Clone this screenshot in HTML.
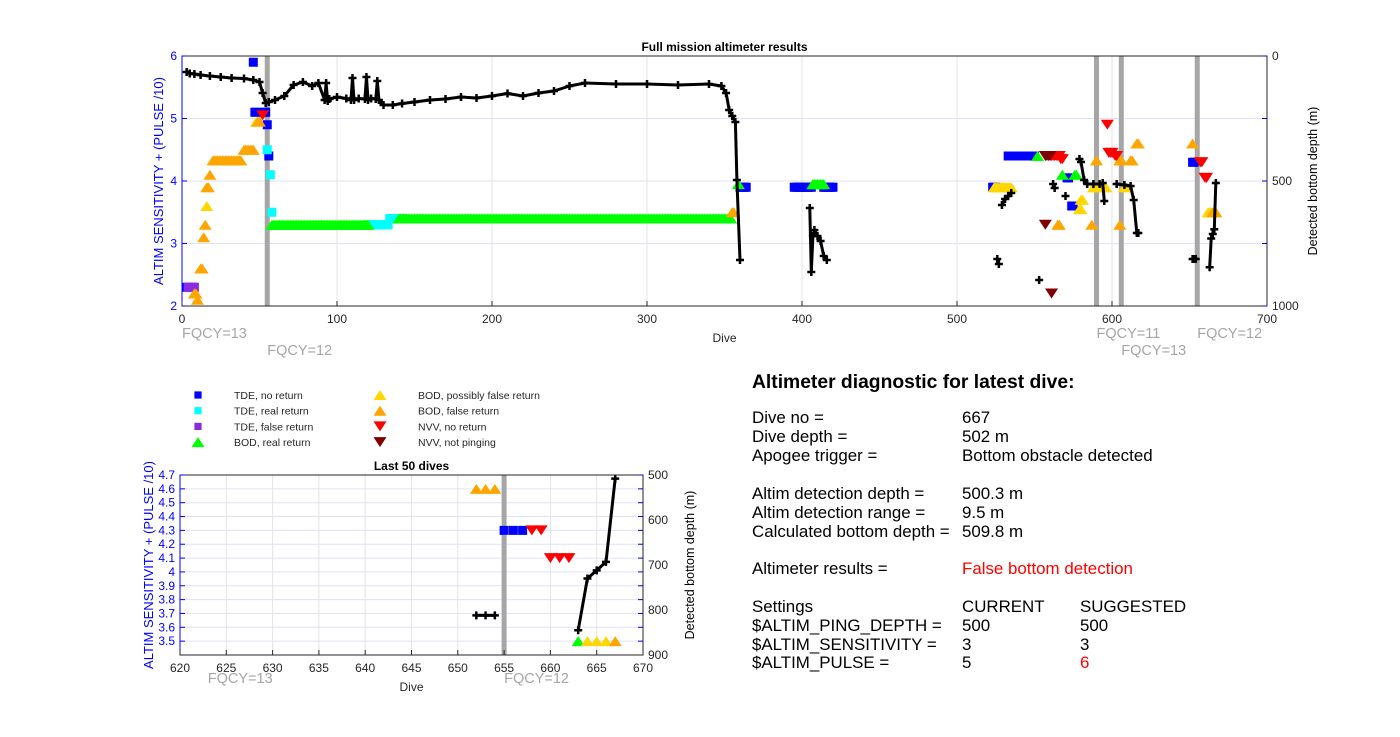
<!DOCTYPE html>
<html><head><meta charset="utf-8"><style>
body{margin:0;background:#fff;}
svg{display:block;font-family:"Liberation Sans",Arial,sans-serif;}
</style></head><body>
<svg id="s" width="1400" height="737" xmlns="http://www.w3.org/2000/svg">
<g font-size="16.9" fill="#000">
<text x="752" y="388" font-size="19.3" font-weight="bold">Altimeter diagnostic for latest dive:</text>
<text x="752" y="423">Dive no =</text><text x="962" y="423">667</text>
<text x="752" y="442">Dive depth =</text><text x="962" y="442">502 m</text>
<text x="752" y="461">Apogee trigger =</text><text x="962" y="461">Bottom obstacle detected</text>
<text x="752" y="499">Altim detection depth =</text><text x="962" y="499">500.3 m</text>
<text x="752" y="518">Altim detection range =</text><text x="962" y="518">9.5 m</text>
<text x="752" y="537">Calculated bottom depth =</text><text x="962" y="537">509.8 m</text>
<text x="752" y="574">Altimeter results =</text><text x="962" y="574" fill="#f00">False bottom detection</text>
<text x="752" y="612">Settings</text><text x="962" y="612">CURRENT</text><text x="1080" y="612">SUGGESTED</text>
<text x="752" y="631">$ALTIM_PING_DEPTH =</text><text x="962" y="631">500</text><text x="1080" y="631">500</text>
<text x="752" y="650">$ALTIM_SENSITIVITY =</text><text x="962" y="650">3</text><text x="1080" y="650">3</text>
<text x="752" y="668">$ALTIM_PULSE =</text><text x="962" y="668">5</text><text x="1080" y="668" fill="#f00">6</text>
</g>
</svg>
<script>
// ---------- data ----------
const catNames=["TDE, no return","TDE, real return","TDE, false return","BOD, real return","BOD, possibly false return","BOD, false return","NVV, no return","NVV, not pinging"];
const catColors=["#0000ff","#00ffff","#8a2be2","#00ff00","#ffd700","#ffa500","#ff0000","#800000"];
const catShapes=["sq","sq","sq","up","up","up","dn","dn"];
// runs per category: [startDive, endDive, value]
const runsTDEno=[[3,3,2.3],[46,46,5.9],[47,48,5.1],[53,54,5.1],[55,55,4.9],[56,56,4.4],[360,364,3.9],[395,406,3.9],[414,420,3.9],[523,525,3.9],[533,550,4.4],[571,572,4.05],[574,575,3.6],[652,653,4.3]];
const runsTDEreal=[[55,55,4.5],[57,57,4.1],[58,58,3.5],[120,133,3.3],[134,142,3.4]];
const runsTDEfalse=[[4,8,2.3]];
const runsBODreal=[[58,120,3.3],[140,354,3.4],[359,359,3.95],[407,414,3.95],[552,552,4.4],[568,568,4.1],[576,577,4.1],[663,663,3.5]];
const runsBODposs=[[48,48,4.95],[16,16,3.6],[524,535,3.9],[580,581,3.7],[579,580,3.55],[588,596,3.9],[608,609,3.9],[662,664,3.5]];
const runsBODfalse=[[8,9,2.2],[10,10,2.1],[12,13,2.6],[14,14,3.1],[15,15,3.3],[16,17,3.9],[18,18,4.1],[20,38,4.33],[40,46,4.5],[49,50,4.95],[355,356,3.5],[565,566,3.3],[587,587,3.3],[590,590,4.33],[605,606,4.33],[605,605,3.3],[612,613,4.33],[616,617,4.6],[652,652,4.6],[665,667,3.5]];
const runsNVVno=[[52,52,5.05],[560,566,4.4],[567,568,4.35],[597,597,4.9],[598,600,4.45],[602,603,4.4],[657,658,4.3],[660,661,4.05]];
const runsNVVnp=[[557,557,3.3],[557,560,4.4],[561,561,2.2]];
const allRuns=[runsTDEno,runsTDEreal,runsTDEfalse,runsBODreal,runsBODposs,runsBODfalse,runsNVVno,runsNVVnp];
// bottom depth series (null = break)
const depthDives=[3,5,8,12,18,25,32,40,46,50,52,54,56,60,66,72,78,84,88,92,93,94,95,100,106,109,110,111,114,118,119,120,122,125,126,127,130,136,142,150,160,170,180,190,200,210,220,230,240,250,260,280,300,320,340,348,351,353,355,357,358,360,null,405,406,407,408,410,412,414,416,null,526,527,null,529,531,533,535,null,553,null,562,563,null,570,null,579,580,582,584,588,592,594,595,null,603,608,612,614,616,617,null,652,653,654,null,663,664,665,666,667];
const depthVals=[64,70,72,76,80,84,88,90,96,104,148,188,184,176,160,116,104,120,108,176,108,180,172,164,170,176,88,176,170,172,84,176,170,172,100,176,196,196,190,184,176,172,164,168,160,150,160,148,140,120,108,112,112,116,112,120,148,216,240,264,496,816,null,608,864,720,696,720,740,800,816,null,812,832,null,596,572,560,548,null,896,null,512,528,null,560,null,412,424,496,512,512,512,508,580,null,512,516,520,576,708,708,null,812,812,812,null,845,730,712,693,508];
// last-50 subset
const l50Dives=[652,653,654,655,656,657,658,659,660,661,662,663,664,665,666,667];
const l50Cat=[5,5,5,0,0,0,6,6,6,6,6,3,4,4,4,5];
const l50Vals=[4.6,4.6,4.6,4.3,4.3,4.3,4.3,4.3,4.1,4.1,4.1,3.5,3.5,3.5,3.5,3.5];
const l50DepthDives=[652,653,654,null,663,664,665,666,667];
const l50DepthVals=[812,812,812,null,845,730,712,693,508];
const fqcyTop=[[55,"FQCY=12"],[590,"FQCY=11"],[606,"FQCY=13"],[655,"FQCY=12"]];
const xTicksTop=[0,100,200,300,400,500,600,700];
const yTicksTop=[2,3,4,5,6];
const yRTicksTop=[0,500,1000];
const xTicksBot=[620,625,630,635,640,645,650,655,660,665,670];
const yTicksBot=[3.5,3.6,3.7,3.8,3.9,4,4.1,4.2,4.3,4.4,4.5,4.6,4.7];
const yRTicksBot=[500,600,700,800,900];

// ---------- drawing ----------
const S=document.getElementById('s');const NS="http://www.w3.org/2000/svg";
function el(t,a,p){const e=document.createElementNS(NS,t);for(const k in a)e.setAttribute(k,a[k]);(p||S).appendChild(e);return e;}
function txt(x,y,s,a,p){const e=el('text',Object.assign({x:x,y:y},a),p);e.textContent=s;return e;}
function marker(g,shape,cx,cy,col,sz){
  let e;
  if(shape==="sq") e=el('rect',{x:cx-sz*0.45,y:cy-sz*0.45,width:sz*0.9,height:sz*0.9,fill:col},g);
  else if(shape==="up") e=el('polygon',{points:`${cx-sz*0.65},${cy+sz/2} ${cx+sz*0.65},${cy+sz/2} ${cx},${cy-sz/2}`,fill:col},g);
  else e=el('polygon',{points:`${cx-sz*0.65},${cy-sz/2} ${cx+sz*0.65},${cy-sz/2} ${cx},${cy+sz/2}`,fill:col},g);
  return e;
}
function chart(o){
  const g=el('g',{});
  
  
  const X=v=>o.x0+(v-o.xmin)/(o.xmax-o.xmin)*(o.x1-o.x0);
  const Y=v=>o.y1-(v-o.ymin)/(o.ymax-o.ymin)*(o.y1-o.y0);
  const YR=v=>o.y0+(v-o.rmin)/(o.rmax-o.rmin)*(o.y1-o.y0);
  const grid=el('g',{},g);
  o.xt.forEach(v=>el('line',{x1:X(v),x2:X(v),y1:o.y0,y2:o.y1,stroke:"#e3e3e3","stroke-width":1},grid));
  o.yt.forEach(v=>el('line',{x1:o.x0,x2:o.x1,y1:Y(v),y2:Y(v),stroke:"#e0e0f8","stroke-width":1},grid));
  o.fq.forEach(f=>{const l=el('line',{x1:X(f[0]),x2:X(f[0]),y1:o.y0,y2:o.y1,stroke:"#a6a6a6","stroke-width":5},g);
    });
  const mg=el('g',{},g);
  o.pts.forEach(p=>{const m=marker(mg,catShapes[p[0]],X(p[1]),Y(p[2]),catColors[p[0]],o.ms);
    
    });
  let d="",pen=false;
  o.dd.forEach((v,i)=>{if(v===null){pen=false;return;}d+=(pen?"L":"M")+X(v).toFixed(1)+","+YR(o.dv[i]).toFixed(1);pen=true;});
  const ln=el('path',{d:d,fill:"none",stroke:"#000","stroke-width":3,"stroke-linejoin":"round"},g);
  
  o.dd.forEach((v,i)=>{if(v===null)return;const cx=X(v),cy=YR(o.dv[i]);
    const c=el('path',{d:`M${cx-4},${cy}h8M${cx},${cy-4}v8`,stroke:"#000","stroke-width":2.5},g);
    });
  el('rect',{x:o.x0,y:o.y0,width:o.x1-o.x0,height:o.y1-o.y0,fill:"none",stroke:"#262626","stroke-width":1},g);
  el('line',{x1:o.x0,x2:o.x0,y1:o.y0,y2:o.y1,stroke:"#0000ff","stroke-width":1},g);
  o.xt.forEach(v=>{el('line',{x1:X(v),x2:X(v),y1:o.y1,y2:o.y1-5,stroke:"#262626"},g);
    const t=txt(X(v),o.y1+17,String(v),{"font-size":12,"text-anchor":"middle",fill:"#262626"},g);});
  o.yt.forEach(v=>{el('line',{x1:o.x0,x2:o.x0+5,y1:Y(v),y2:Y(v),stroke:"#0000ff"},g);el('line',{x1:o.x1,x2:o.x1-5,y1:Y(v),y2:Y(v),stroke:"#0000ff"},g);
    const t=txt(o.x0-5,Y(v)+4,String(v),{"font-size":12,"text-anchor":"end",fill:"#0000ff"},g);});
  o.rt.forEach(v=>{const t=txt(o.x1+5,YR(v)+4,String(v),{"font-size":12,fill:"#262626"},g);});
  const tt=txt((o.x0+o.x1)/2,o.y0-5,o.title,{"font-size":12,"font-weight":"bold","text-anchor":"middle"},g);
  const xl=txt((o.x0+o.x1)/2,o.y1+36,"Dive",{"font-size":12,"text-anchor":"middle",fill:"#262626"},g);
  const yl=txt(0,0,"ALTIM SENSITIVITY + (PULSE /10)",{"font-size":13,"text-anchor":"middle",fill:"#0000ff",transform:`translate(${o.ylx},${(o.y0+o.y1)/2}) rotate(-90)`},g);
  const rl=txt(0,0,"Detected bottom depth (m)",{"font-size":12.5,"text-anchor":"middle",fill:"#000",transform:`translate(${o.rlx},${(o.y0+o.y1)/2}) rotate(-90)`},g);
  o.fql.forEach(f=>{const t=txt(X(f[0]),f[2],f[1],{"font-size":14.5,fill:"#a6a6a6"},g);});
}
const topPts=[];
allRuns.forEach((runs,c)=>runs.forEach(r=>{for(let d=r[0];d<=r[1];d++)topPts.push([c,d,r[2]]);}));
chart({name:"full-mission-chart",title:"Full mission altimeter results",x0:182,x1:1267,y0:56,y1:306,xmin:0,xmax:700,ymin:2,ymax:6,rmin:0,rmax:1000,
  xt:xTicksTop,yt:yTicksTop,rt:yRTicksTop,fq:fqcyTop,pts:topPts,dd:depthDives,dv:depthVals,ms:10,ylx:163,rlx:1317,
  fql:[[0,"FQCY=13",338],[55,"FQCY=12",355],[590,"FQCY=11",338],[606,"FQCY=13",355],[655,"FQCY=12",338]]});
const botPts=l50Dives.map((d,i)=>[l50Cat[i],d,l50Vals[i]]);
chart({name:"last-50-dives-chart",title:"Last 50 dives",x0:180,x1:643,y0:475,y1:655,xmin:620,xmax:670,ymin:3.4,ymax:4.7,rmin:500,rmax:900,
  xt:xTicksBot,yt:yTicksBot,rt:yRTicksBot,fq:[[655]],pts:botPts,dd:l50DepthDives,dv:l50DepthVals,ms:10,ylx:153,rlx:694,
  fql:[[623,"FQCY=13",683],[655,"FQCY=12",683]]});
const lg=el('g',{});
catNames.forEach((n,i)=>{const col=i<4?0:1,row=i%4;const mx=col?380:198,tx=col?418:234,y=395+row*15.7;
  const e=el('g',{},lg);
  marker(e,catShapes[i],mx,y,catColors[i],catShapes[i]==="sq"?8:10);
  txt(tx,y+4,n,{"font-size":10.5,fill:"#262626"},e);});
</script>
</body></html>
